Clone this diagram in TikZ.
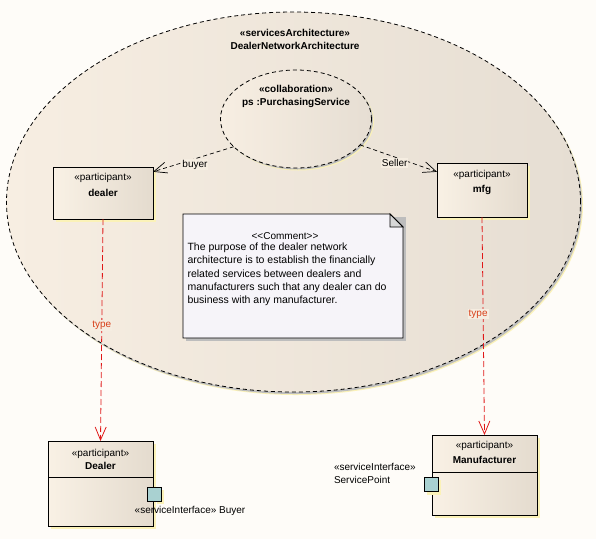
\documentclass[tikz,border=0pt]{standalone}
\usepackage{fontspec}
\setmainfont{Liberation Sans}
\usetikzlibrary{shapes.geometric,arrows.meta}
\definecolor{bgc}{HTML}{FEFCF8}
\definecolor{ellL}{HTML}{F7EEE2}
\definecolor{ellR}{HTML}{E6DED3}
\definecolor{boxL}{HTML}{F9F1E5}
\definecolor{boxR}{HTML}{E4DBCE}
\definecolor{shY}{HTML}{FBF2B8}
\definecolor{shG}{HTML}{BDBDBD}
\definecolor{noteF}{HTML}{F6F4F9}
\definecolor{portF}{HTML}{A9D1D1}
\definecolor{typeR}{HTML}{E01818}
\definecolor{typeT}{HTML}{D8401A}
\definecolor{lblbg}{HTML}{F5EDE1}
\tikzset{
  txt/.style={inner sep=0pt, outer sep=0pt, align=center, font=\fontsize{10}{13}\selectfont},
  btxt/.style={txt, font=\fontsize{10}{13}\selectfont\bfseries},
  bigell/.style={ellipse, draw=black, line width=0.8pt, dash pattern=on 4pt off 3pt,
    inner sep=0pt, outer sep=0pt, left color=ellL, right color=ellR},
  collabell/.style={ellipse, draw=black, line width=0.8pt, dash pattern=on 4pt off 3pt,
    inner sep=0pt, outer sep=0pt, left color=ellL, right color=ellR},
  umlbox/.style={rectangle, draw=black, line width=0.8pt, inner sep=0pt, outer sep=0pt,
    left color=boxL, right color=boxR},
  portbox/.style={rectangle, draw=black, line width=0.8pt, inner sep=0pt, outer sep=0pt,
    fill=portF, minimum width=14pt, minimum height=14pt},
  roleline/.style={draw=black, line width=0.7pt, dash pattern=on 4pt off 3pt,
    -{Straight Barb[length=13pt,width=11pt]}},
  typeline/.style={draw=typeR, line width=0.8pt, dash pattern=on 6pt off 3pt,
    -{Straight Barb[length=13pt,width=11pt]}},
  rolelabel/.style={txt, fill=lblbg, inner sep=1pt},
  typelabel/.style={txt, fill=lblbg, inner sep=1pt, text=typeT},
}
\begin{document}
\begin{tikzpicture}[x=1pt,y=-1pt]
\useasboundingbox[fill=bgc] (0,0) rectangle (596,539);

% big ellipse with shadow
\fill[shY] (296,205) ellipse [x radius=287, y radius=190];
\fill[shG] (295,204) ellipse [x radius=287, y radius=190];
\node[bigell, minimum width=574pt, minimum height=380pt] (arch) at (293.5,202) {};
\node[btxt] (archT) at (295,39.5) {«servicesArchitecture»\\DealerNetworkArchitecture};

% collaboration
\fill[shY] (298.5,121.5) ellipse [x radius=75.5, y radius=49];
\fill[shG] (297.5,120.5) ellipse [x radius=75.5, y radius=49];
\node[collabell, minimum width=151pt, minimum height=98pt] (collab) at (296,119) {};
\node[btxt] (collabT) at (296,96.5) {«collaboration»\\ps :PurchasingService};

% small participants
\fill[shY] (56,170) rectangle (156,222);
\node[umlbox, minimum width=100pt, minimum height=52pt] (dealer) at (103,193) {};
\node[txt] (dealerS) at (103,178) {«participant»};
\node[btxt] (dealerN) at (103,193) {dealer};

\fill[shY] (440,166) rectangle (530,220);
\node[umlbox, minimum width=90pt, minimum height=54pt] (mfg) at (482,190) {};
\node[txt] (mfgS) at (482,175) {«participant»};
\node[btxt] (mfgN) at (482,190) {mfg};

% comment note
\fill[shG] (186,217) -- (406,217) -- (406,341) -- (186,341) -- cycle;
\draw[line width=0.8pt, fill=noteF] (183,214) -- (390,214) -- (403,227) -- (403,338) -- (183,338) -- cycle;
\draw[line width=0.8pt, fill=shG!60] (390,214) -- (390,227) -- (403,227) -- cycle;
\node[txt] (noteT) at (285,236) {{<}{<}Comment{>}{>}};
\node[txt, anchor=north west, align=left, font=\fontsize{10.5}{13.2}\selectfont] (noteB) at (187.5,243)
  {The purpose of the dealer network\\architecture is to establish the financially\\related services between dealers and\\manufacturers such that any dealer can do\\business with any manufacturer.};

% role connectors
\draw[roleline] (collab.204) -- node[rolelabel, pos=0.48, yshift=-6pt] {buyer} (dealer.23);
\draw[roleline] (collab.338) -- node[rolelabel, pos=0.45, yshift=-6pt] {Seller} (mfg.158);

% big participants
\fill[shY] (51,444) rectangle (156,529);
\node[umlbox, minimum width=105pt, minimum height=85pt] (Dealer) at (100.5,483.5) {};
\draw[line width=0.8pt] (48,477) -- (153,477);
\node[txt] (DealerS) at (100.5,454) {«participant»};
\node[btxt] (DealerN) at (100.5,466) {Dealer};
\fill[shY] (157,490) rectangle (164,504);
\node[portbox] (buyerPort) at (154,494) {};
\node[txt] (buyerL) at (190,511) {«serviceInterface» Buyer};

\fill[shY] (435,438) rectangle (540,518);
\node[umlbox, minimum width=105pt, minimum height=80pt] (Manu) at (484.5,475) {};
\draw[line width=0.8pt] (432,472) -- (537,472);
\node[txt] (ManuS) at (484.5,446) {«participant»};
\node[btxt] (ManuN) at (484.5,460) {Manufacturer};
\fill[shY] (427,480) rectangle (441,495);
\node[portbox] (spPort) at (431,484.5) {};
\node[txt, anchor=west, align=left] (spL) at (334,473.5) {«serviceInterface»\\ServicePoint};

% type connectors
\draw[typeline] (dealer.south) -- node[typelabel, pos=0.48] {type} (Dealer.north);
\draw[typeline] (mfg.south) -- node[typelabel, pos=0.445, xshift=-5pt] {type} (Manu.north);
\end{tikzpicture}
\end{document}
